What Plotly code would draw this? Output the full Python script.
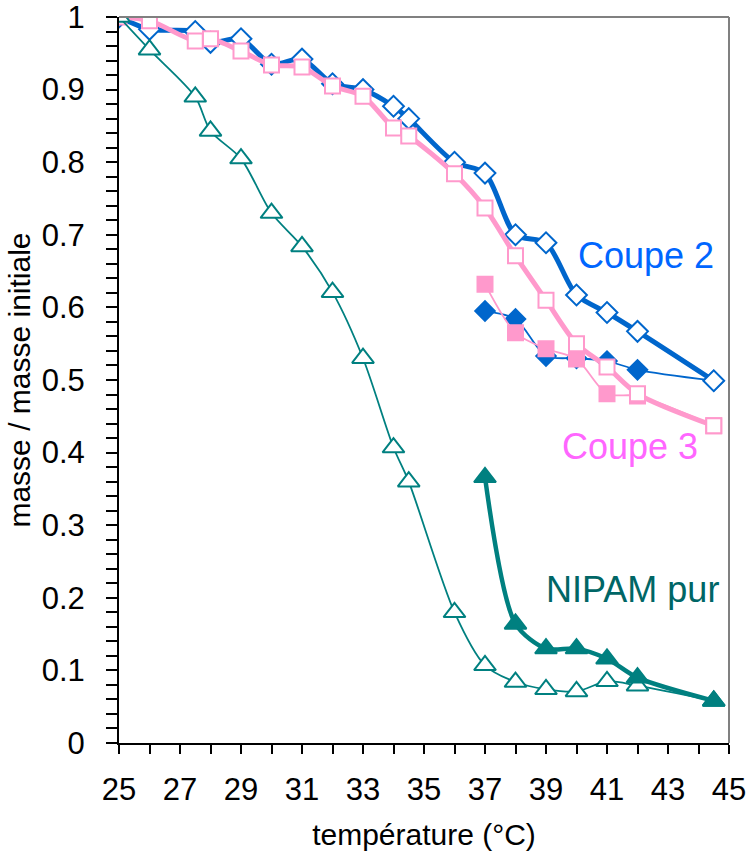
import plotly.graph_objects as go

# montée en température
temp_montee = [25, 26, 27.5, 28, 29, 30, 31, 32, 33, 34, 34.5, 36, 37, 38, 39, 40, 41, 42, 44.5]
coupe2_montee = [1.0, 0.983, 0.98, 0.965, 0.97, 0.935, 0.942, 0.908, 0.90, 0.877, 0.86, 0.80, 0.785, 0.70, 0.689, 0.617, 0.593, 0.567, 0.499]
coupe3_montee = [1.0, 0.995, 0.967, 0.97, 0.953, 0.934, 0.931, 0.905, 0.891, 0.847, 0.836, 0.784, 0.737, 0.671, 0.610, 0.55, 0.518, 0.481, 0.437]
nipam_montee = [1.0, 0.955, 0.89, 0.843, 0.805, 0.73, 0.684, 0.621, 0.53, 0.407, 0.36, 0.18, 0.107, 0.084, 0.074, 0.071, 0.085, 0.079, 0.058]

# descente en température
temp_descente = [44.5, 42, 41, 40, 39, 38, 37]
coupe2_descente = [0.499, 0.514, 0.526, 0.53, 0.533, 0.584, 0.595]
coupe3_descente = [0.437, 0.478, 0.481, 0.529, 0.543, 0.565, 0.632]
nipam_descente = [0.058, 0.09, 0.116, 0.13, 0.13, 0.164, 0.366]

BLUE = "#0066CC"
PINK = "#FF99CC"
TEAL = "#008080"
FONT = "Liberation Sans, Arial, sans-serif"

fig = go.Figure()


def add_serie(x, y, color, symbol, size, width, filled):
    fig.add_trace(go.Scatter(
        x=x, y=y, mode="lines+markers",
        line=dict(color=color, width=width, shape="spline", smoothing=0.8),
        marker=dict(symbol=symbol, size=size,
                    color=color if filled else "white",
                    line=dict(color=color, width=2)),
        showlegend=False))


add_serie(temp_descente, coupe2_descente, BLUE, "diamond", 15, 1.8, True)
add_serie(temp_montee, coupe2_montee, BLUE, "diamond", 16, 5, False)
add_serie(temp_descente, coupe3_descente, PINK, "square", 15, 1.8, True)
add_serie(temp_montee, coupe3_montee, PINK, "square", 15, 5, False)
add_serie(temp_montee, nipam_montee, TEAL, "triangle-up", 19, 1.8, False)
add_serie(temp_descente, nipam_descente, TEAL, "triangle-up", 19, 4.5, True)

fig.add_annotation(x=42.28, y=0.671, text="Coupe 2", showarrow=False,
                   font=dict(family=FONT, size=36, color="#0066FF"))
fig.add_annotation(x=41.75, y=0.409, text="Coupe 3", showarrow=False,
                   font=dict(family=FONT, size=36, color="#FF66FF"))
fig.add_annotation(x=41.85, y=0.212, text="NIPAM pur", showarrow=False,
                   font=dict(family=FONT, size=36, color="#006666"))

# cadre gris en haut et à droite
fig.add_shape(type="line", xref="paper", yref="paper", x0=0, x1=1, y0=1, y1=1,
              line=dict(color="#808080", width=2))
fig.add_shape(type="line", xref="paper", yref="paper", x0=1, x1=1, y0=0, y1=1,
              line=dict(color="#808080", width=2))

fig.update_xaxes(range=[25, 45], tick0=25, dtick=2, ticks="outside", ticklen=9,
                 tickwidth=1.5, tickcolor="black", showline=True, linecolor="black",
                 linewidth=2, showgrid=False, zeroline=False, automargin=False,
                 minor=dict(dtick=1, ticks="outside", ticklen=9, tickwidth=1.5, tickcolor="black"),
                 tickfont=dict(family=FONT, size=31, color="black"), ticklabelstandoff=9,
                 ticklabeloverflow="allow",
                 title=dict(text="température (°C)", font=dict(family=FONT, size=30, color="black"), standoff=18))
fig.update_yaxes(range=[0, 1], tick0=0, dtick=0.1, ticks="outside", ticklen=11,
                 tickwidth=1.5, tickcolor="black", showline=True, linecolor="black",
                 linewidth=2, showgrid=False, zeroline=False, automargin=False,
                 minor=dict(dtick=0.02, ticks="outside", ticklen=11, tickwidth=1.5, tickcolor="black"),
                 tickfont=dict(family=FONT, size=31, color="black"), ticklabelstandoff=15,
                 ticklabeloverflow="allow",
                 title=dict(text="masse / masse initiale", font=dict(family=FONT, size=30, color="black"), standoff=2))

fig.update_layout(width=749, height=855, margin=dict(l=119, r=20, t=17, b=112),
                  plot_bgcolor="white", paper_bgcolor="white")

# pas de marge de page autour de la figure, pas de barre d'outils
fig.write_html("out.html", config={"displayModeBar": False},
               post_script="document.body.style.margin = '0';")
